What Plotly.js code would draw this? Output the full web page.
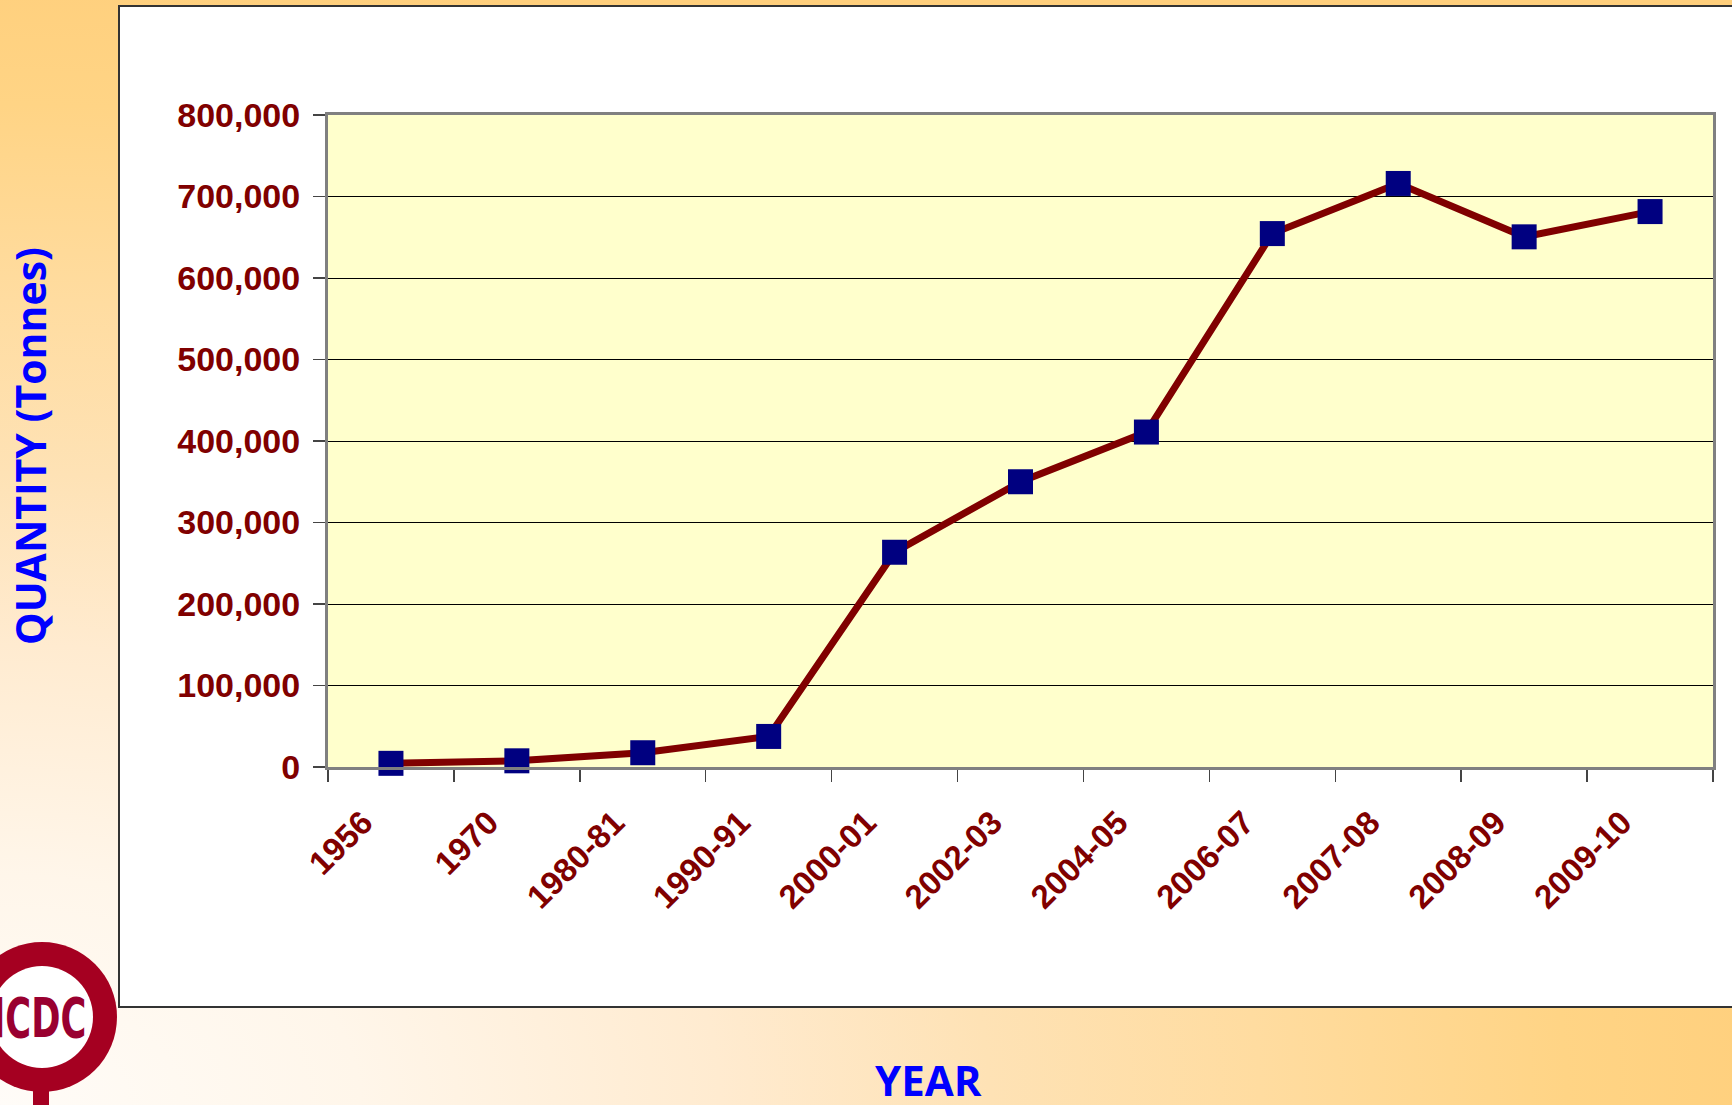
<!DOCTYPE html>
<html>
<head>
<meta charset="utf-8">
<script src="https://cdn.plot.ly/plotly-3.0.1.min.js"></script>
<style>
  html, body { margin: 0; padding: 0; width: 1732px; height: 1105px; overflow: hidden; }
  body {
    background: radial-gradient(ellipse 1800px 1150px at 0% 100%,
      #FFFCF8 0%, #FFF6EA 20%, #FFEBD0 40%, #FEE2B5 55%, #FFDCA0 70%, #FFD485 87%, #FFCF7C 100%);
  }
  #chart { width: 1732px; height: 1105px; }
</style>
</head>
<body>
<div id="chart"></div>
<script>
// ---- data ----
const years = ["1956", "1970", "1980-81", "1990-91", "2000-01", "2002-03", "2004-05", "2006-07", "2007-08", "2008-09", "2009-10"];
const quantityTonnes = [4500, 7600, 17500, 37500, 263500, 350000, 411000, 654500, 716000, 650500, 681500];
const yTickValues = [0, 100000, 200000, 300000, 400000, 500000, 600000, 700000, 800000];

// ---- layout geometry (pixels) ----
const W = 1732, H = 1105;
const L = 328, R = 1713, T = 115, B = 767;
const pw = R - L, ph = B - T;
const px = x => (x - L) / pw;
const py = y => (B - y) / ph;

const trace = {
  type: "scatter",
  mode: "lines+markers",
  x: years,
  y: quantityTonnes,
  line: { color: "#800000", width: 7 },
  marker: { symbol: "square", size: 25, color: "#000080", line: { width: 0 } },
  cliponaxis: false,
  hoverinfo: "x+y"
};

const layout = {
  width: W, height: H,
  margin: { l: L, r: W - R, t: T, b: H - B, pad: 0 },
  paper_bgcolor: "rgba(0,0,0,0)",
  plot_bgcolor: "#FFFFCC",
  showlegend: false,
  xaxis: {
    type: "category",
    range: [-0.5, years.length - 0.5],
    tickson: "boundaries",
    ticks: "outside", ticklen: 12, tickwidth: 1.5, tickcolor: "#444",
    tickangle: -45,
    tickfont: { family: "Liberation Sans, Arial, sans-serif", size: 33, color: "#800000", weight: "bold" },
    showline: true, linecolor: "#808080", linewidth: 3, mirror: true,
    showgrid: false, zeroline: false,
    ticklabelstandoff: 20,
    ticklabelshift: -28
  },
  yaxis: {
    range: [0, 800000],
    tickvals: yTickValues,
    tickformat: ",d",
    ticks: "outside", ticklen: 12, tickwidth: 1.5, tickcolor: "#444",
    tickfont: { family: "Liberation Sans, Arial, sans-serif", size: 34, color: "#800000", weight: "bold" },
    showline: true, linecolor: "#808080", linewidth: 3, mirror: true,
    showgrid: true, gridcolor: "#000000", gridwidth: 1,
    zeroline: false,
    ticklabelstandoff: 6
  },
  shapes: [
    // white chart frame
    { type: "rect", xref: "paper", yref: "paper", layer: "below",
      x0: px(119), x1: px(1745), y0: py(1007), y1: py(6),
      fillcolor: "#FFFFFF", line: { color: "#333333", width: 2 } },
    // plot area fill
    { type: "rect", xref: "paper", yref: "paper", layer: "below",
      x0: 0, x1: 1, y0: 0, y1: 1,
      fillcolor: "#FFFFCC", line: { width: 0 } },
    // logo ring
    { type: "circle", xref: "paper", yref: "paper", layer: "above",
      x0: px(-33), x1: px(117), y0: py(1092), y1: py(942),
      fillcolor: "#A50021", line: { width: 0 } },
    { type: "circle", xref: "paper", yref: "paper", layer: "above",
      x0: px(-9), x1: px(93), y0: py(1068), y1: py(966),
      fillcolor: "#FFFFFF", line: { width: 0 } },
    { type: "rect", xref: "paper", yref: "paper", layer: "above",
      x0: px(33), x1: px(49), y0: py(1115), y1: py(1088),
      fillcolor: "#A50021", line: { width: 0 } }
  ],
  annotations: [
    { text: "QUANTITY (Tonnes)", xref: "paper", yref: "paper",
      x: px(30), y: py(446), xanchor: "center", yanchor: "middle",
      textangle: -90, showarrow: false,
      font: { family: "Open Sans, sans-serif", size: 41, color: "#0000FF", weight: "bold" } },
    { text: "YEAR", xref: "paper", yref: "paper",
      x: px(928), y: py(1079), xanchor: "center", yanchor: "middle",
      showarrow: false,
      font: { family: "Open Sans, sans-serif", size: 42, color: "#0000FF", weight: "bold" } },
    { text: "ICDC", xref: "paper", yref: "paper",
      x: px(39), y: py(1017), xanchor: "center", yanchor: "middle",
      showarrow: false,
      font: { family: "DejaVu Sans Condensed, DejaVu Sans, sans-serif", size: 56, color: "#990030", weight: "bold" } }
  ]
};

Plotly.newPlot("chart", [trace], layout, { displayModeBar: false, staticPlot: true }).then(gd => {
  // squeeze the logo lettering horizontally to its condensed look
  const t = gd.querySelector('.annotation[data-index="2"] text');
  if (t) {
    const bb = t.getBBox();
    const cx = bb.x + bb.width / 2;
    const s = 94 / bb.width;
    const prev = t.getAttribute("transform") || "";
    t.setAttribute("transform", prev + ` translate(${cx},0) scale(${s},1) translate(${-cx},0)`);
  }
});
</script>
</body>
</html>
